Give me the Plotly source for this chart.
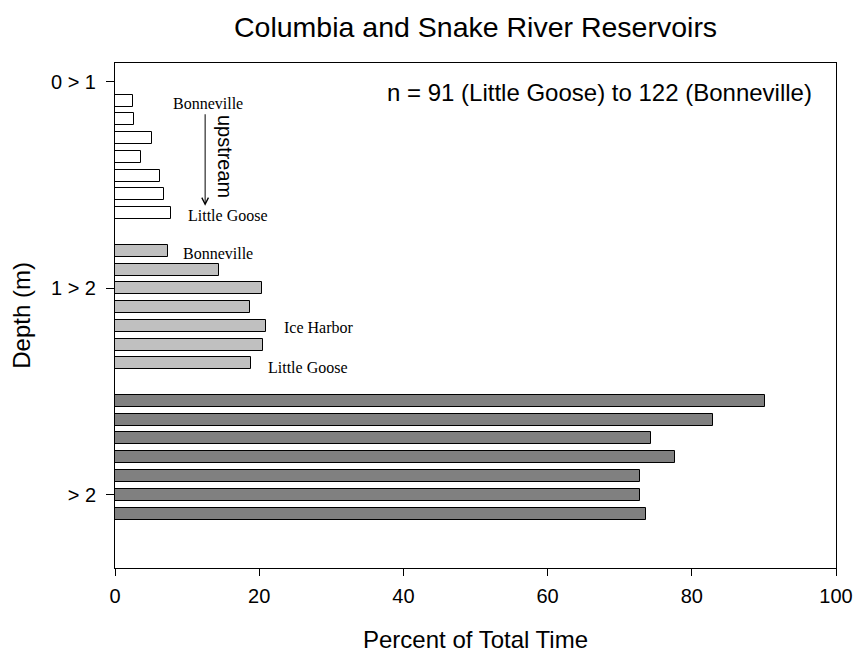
import plotly.graph_objects as go

# Data (percent of total time), ordered Bonneville (top) -> Little Goose (bottom)
depth_labels = ["0 > 1", "1 > 2", "> 2"]
shallow_0_1 = [2.5, 2.7, 5.2, 3.6, 6.2, 6.8, 7.7]
mid_1_2 = [7.4, 14.4, 20.4, 18.7, 20.9, 20.5, 18.8]
deep_gt2 = [90.2, 82.9, 74.4, 77.7, 72.8, 72.8, 73.6]

x_ticks = [0, 20, 40, 60, 80, 100]

groups = [shallow_0_1, mid_1_2, deep_gt2]
fills = ["#ffffff", "#c0c0c0", "#808080"]
group_gap = 8          # slots per group (7 bars + 1 gap)
tick_offsets = [0, 11, 22]

SANS = "Arial, Liberation Sans, sans-serif"
SERIF = "Times New Roman, Liberation Serif, serif"

fig = go.Figure()
for g, (vals, col) in enumerate(zip(groups, fills)):
    ys = [1 + g * group_gap + i for i in range(len(vals))]
    fig.add_trace(go.Bar(
        x=vals, y=ys, orientation="h", width=0.64,
        marker=dict(color=col, line=dict(color="black", width=1)),
        showlegend=False, hoverinfo="x",
    ))

ann = []
serif_labels = [
    ("Bonneville", 7.7, 1.14),
    ("Little Goose", 9.8, 7.12),
    ("Bonneville", 9.2, 9.14),
    ("Ice Harbor", 23.2, 13.07),
    ("Little Goose", 21.0, 15.2),
]
for t, x, y in serif_labels:
    ann.append(dict(text=t, x=x, y=y, xref="x", yref="y", xanchor="left",
                    yanchor="middle", showarrow=False,
                    font=dict(family=SERIF, size=16, color="black")))
# arrow
ann.append(dict(text="", x=12.5, y=6.6, ax=12.5, ay=1.65, xref="x", yref="y",
                axref="x", ayref="y", showarrow=True, arrowhead=5,
                arrowsize=1.3, arrowwidth=1, arrowcolor="black"))
ann.append(dict(text="upstream", x=15.2, y=3.98, xref="x", yref="y",
                textangle=90, showarrow=False, xanchor="center", yanchor="middle",
                font=dict(family=SANS, size=20, color="black")))
ann.append(dict(text="n = 91 (Little Goose) to 122 (Bonneville)", x=0.97, y=0.9406,
                xref="paper", yref="paper", xanchor="right", yanchor="middle",
                showarrow=False, font=dict(family=SANS, size=24, color="black")))
ann.append(dict(text="Columbia and Snake River Reservoirs", x=0.5, y=1.071,
                xref="paper", yref="paper", xanchor="center", yanchor="middle",
                showarrow=False, font=dict(family=SANS, size=28.5, color="black")))
ann.append(dict(text="Percent of Total Time", x=0.5, y=-0.142,
                xref="paper", yref="paper", xanchor="center", yanchor="middle",
                showarrow=False, font=dict(family=SANS, size=24, color="black")))
ann.append(dict(text="Depth (m)", x=-0.13, y=0.5, textangle=-90,
                xref="paper", yref="paper", xanchor="center", yanchor="middle",
                showarrow=False, font=dict(family=SANS, size=24, color="black")))

fig.update_layout(
    width=856, height=653, autosize=False,
    margin=dict(l=115, r=20, t=63, b=85),
    plot_bgcolor="white", paper_bgcolor="white",
    bargap=0, annotations=ann,
    font=dict(family=SANS, size=20, color="black"),
)
fig.update_xaxes(range=[0, 100], tickvals=x_ticks, ticks="outside", ticklen=7,
                 tickcolor="black", showline=True, linecolor="black", linewidth=1,
                 mirror=True, showgrid=False, zeroline=False, ticklabelstandoff=3,
                 automargin=False, ticklabeloverflow="allow")
fig.update_yaxes(range=[25.9, -1.0], tickvals=tick_offsets, ticktext=depth_labels,
                 ticks="outside", ticklen=8, tickcolor="black", showline=True,
                 linecolor="black", linewidth=1, mirror=True, showgrid=False,
                 zeroline=False, ticklabelstandoff=6, automargin=False,
                 ticklabeloverflow="allow")

fig.write_html("out.html",
               config={"responsive": False, "displayModeBar": False},
               post_script="document.body.style.margin='0';"
                           "document.body.style.overflow='hidden';")
